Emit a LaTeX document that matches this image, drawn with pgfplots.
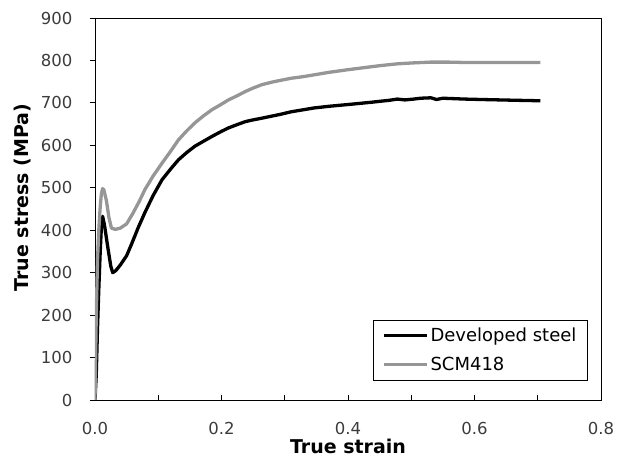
\documentclass[border=0pt]{standalone}
\usepackage{fontspec}
\setmainfont{DejaVu Sans}
\usepackage{pgfplots}
\pgfplotsset{compat=1.18}
\usetikzlibrary{calc}
\definecolor{scmgray}{RGB}{150,150,150}
\definecolor{ticktext}{RGB}{60,60,60}

\begin{document}
\begin{tikzpicture}[x=1pt,y=1pt]
\begin{axis}[
    scale only axis,
    width=506pt,
    height=382pt,
    xmin=0, xmax=0.8,
    ymin=0, ymax=900,
    xtick={0,0.2,0.4,0.6,0.8},
    minor xtick={0.1,0.3,0.5,0.7},
    ytick={0,100,...,900},
    xtick pos=bottom,
    ytick pos=left,
    xtick align=inside,
    ytick align=outside,
    major tick length=5pt,
    minor tick length=5pt,
    tick style={black, line width=0.8pt},
    axis line style={black, line width=0.8pt},
    /pgf/number format/assume math mode=true,
    xticklabel style={/pgf/number format/fixed, /pgf/number format/fixed zerofill, /pgf/number format/precision=1, font=\fontsize{16.5}{16.5}\selectfont, text=ticktext, yshift=-19pt},
    yticklabel style={font=\fontsize{16.5}{16.5}\selectfont, text=ticktext, xshift=-14pt},
    scaled x ticks=false,
    xlabel={True strain},
    ylabel={True stress (MPa)},
    xlabel style={font=\fontsize{19}{19}\selectfont\bfseries, yshift=3pt},
    ylabel style={font=\fontsize{19}{19}\selectfont\bfseries, at={(ticklabel cs:0.53)}, yshift=3pt},
    legend style={
        at={(0.974,0.051)}, anchor=south east,
        draw=black, line width=0.8pt,
        font=\fontsize{18}{18}\selectfont,
        inner xsep=9pt, inner ysep=6pt,
        row sep=10pt,
        cells={anchor=west},
    },
    legend image code/.code={\draw[#1] (0pt,0pt) -- (43pt,0pt);},
    legend cell align=left,
]
\addplot[black, line width=3.3pt, line join=round] coordinates {
(0,0) (0.002,60) (0.004,170) (0.006,260) (0.008,340) (0.010,405) (0.012,433)
(0.015,412) (0.020,362) (0.025,315) (0.028,300) (0.033,305) (0.040,318)
(0.050,340) (0.058,368) (0.068,405) (0.079,442) (0.092,482) (0.106,519)
(0.120,545) (0.132,566) (0.145,583) (0.158,598) (0.172,610) (0.185,621)
(0.200,633) (0.211,641) (0.225,649) (0.238,656) (0.250,660) (0.264,664)
(0.280,669) (0.293,673) (0.310,679) (0.330,684) (0.346,688) (0.370,692)
(0.399,696) (0.420,699) (0.440,702) (0.452,704) (0.465,706) (0.478,709)
(0.490,707) (0.504,709) (0.515,711) (0.531,712) (0.540,708) (0.550,711)
(0.584,709) (0.610,708) (0.640,707) (0.670,706) (0.704,705)
};
\addlegendentry{Developed steel}
\addplot[scmgray, line width=3.3pt, line join=round] coordinates {
(0,0) (0.002,200) (0.004,330) (0.006,400) (0.008,450) (0.010,485) (0.012,498)
(0.014,495) (0.018,470) (0.022,430) (0.026,405) (0.032,402) (0.040,405)
(0.050,415) (0.060,440) (0.070,468) (0.079,496) (0.092,528) (0.106,558)
(0.120,587) (0.132,613) (0.145,634) (0.158,653) (0.172,670) (0.185,684)
(0.200,697) (0.211,707) (0.225,717) (0.238,727) (0.250,735) (0.264,743)
(0.280,749) (0.293,753) (0.310,758) (0.330,762) (0.346,766) (0.370,772)
(0.399,778) (0.420,782) (0.452,788) (0.478,792) (0.500,794) (0.530,796)
(0.560,796) (0.590,795) (0.620,795) (0.650,795) (0.680,795) (0.704,795)
};
\addlegendentry{SCM418}
\end{axis}
\pgfresetboundingbox
\path ($(current axis.south west)+(-95pt,-57pt)$) rectangle ($(current axis.north east)+(22pt,18pt)$);
\end{tikzpicture}
\end{document}
